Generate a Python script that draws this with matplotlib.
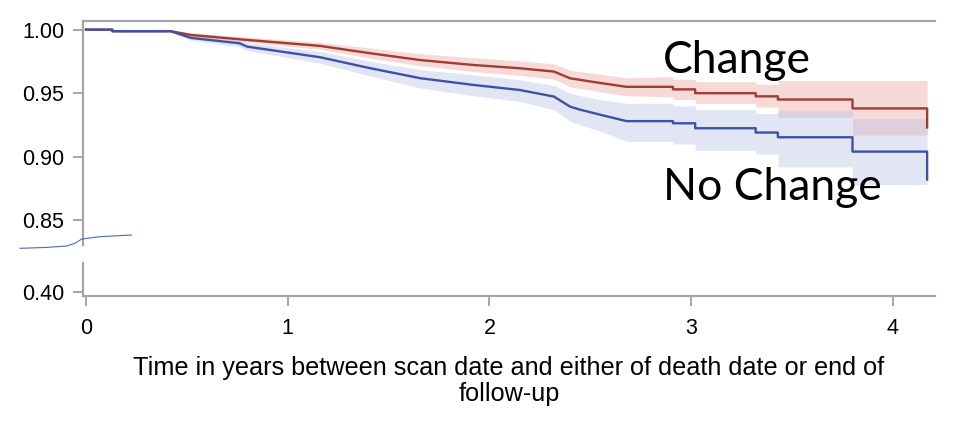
import numpy as np
import matplotlib
matplotlib.use('Agg')
import matplotlib.pyplot as plt
from matplotlib.lines import Line2D

# curve vertices (time in years, survival)
times_change = [0, 0.13, 0.13, 0.42, 0.52, 0.80, 1.16, 1.41, 1.66, 1.92, 2.15, 2.32, 2.40,
                2.55, 2.68, 2.91, 2.91, 3.02, 3.02, 3.32, 3.32, 3.43, 3.43, 3.80, 3.80,
                4.17, 4.17]
surv_change = [1.000, 1.000, 0.9988, 0.9988, 0.9958, 0.9919, 0.9872, 0.9814, 0.976, 0.9722,
               0.9696, 0.967, 0.9617, 0.958, 0.955, 0.955, 0.953, 0.953, 0.950, 0.950,
               0.9475, 0.9475, 0.945, 0.945, 0.938, 0.938, 0.923]
lower_change = [1.000, 1.000, 0.998, 0.998, 0.9945, 0.990, 0.9845, 0.9775, 0.9715, 0.967,
                0.964, 0.961, 0.955, 0.951, 0.948, 0.947, 0.945, 0.945, 0.942, 0.942,
                0.939, 0.939, 0.931, 0.931, 0.917, 0.917, 0.917]
upper_change = [1.000, 1.000, 0.9995, 0.9995, 0.9975, 0.994, 0.990, 0.9855, 0.981, 0.978,
                0.9755, 0.973, 0.968, 0.965, 0.962, 0.963, 0.961, 0.961, 0.959, 0.959,
                0.957, 0.957, 0.960, 0.960, 0.960, 0.960, 0.960]

times_nochange = [0, 0.13, 0.13, 0.42, 0.52, 0.76, 0.80, 1.16, 1.41, 1.66, 1.92, 2.15, 2.32,
                  2.40, 2.45, 2.55, 2.68, 2.91, 2.91, 3.02, 3.02, 3.32, 3.32, 3.43, 3.43,
                  3.80, 3.80, 4.17, 4.17]
surv_nochange = [1.000, 1.000, 0.9988, 0.9988, 0.9935, 0.9893, 0.9866, 0.9783, 0.9696, 0.9617,
                 0.9565, 0.9525, 0.9473, 0.9394, 0.937, 0.933, 0.928, 0.928, 0.9263, 0.9263,
                 0.9224, 0.9224, 0.919, 0.919, 0.9153, 0.9153, 0.904, 0.904, 0.882]
lower_nochange = [1.000, 1.000, 0.998, 0.998, 0.9915, 0.9865, 0.9835, 0.9735, 0.9635, 0.954,
                  0.948, 0.9435, 0.937, 0.928, 0.925, 0.920, 0.912, 0.912, 0.910, 0.910,
                  0.905, 0.905, 0.902, 0.902, 0.892, 0.892, 0.878, 0.878, 0.878]
upper_nochange = [1.000, 1.000, 0.9995, 0.9995, 0.9955, 0.992, 0.9895, 0.983, 0.975, 0.9685,
                  0.9645, 0.9605, 0.956, 0.950, 0.948, 0.945, 0.942, 0.942, 0.940, 0.940,
                  0.937, 0.937, 0.934, 0.934, 0.936, 0.936, 0.930, 0.930, 0.930]

x_ticks = [0, 1, 2, 3, 4]
y_ticks_top = [0.85, 0.90, 0.95, 1.00]
y_ticks_bottom = [0.40]

# hand drawn break mark, in figure pixels
squiggle_x = [20, 45, 66.7, 75, 81.7, 100, 131.7]
squiggle_y = [248.3, 247.5, 246, 243.3, 239, 236.7, 235]

W, H = 968, 428
red = '#A23B32'
blue = '#3F51A3'
gray = '#A6A6A6'

plt.rcParams['font.family'] = ['Liberation Sans', 'DejaVu Sans']
fig = plt.figure(figsize=(W / 100, H / 100), dpi=100)

ax = fig.add_axes([83 / W, 1 - 245 / H, (935 - 83) / W, (245 - 21) / H])
ax2 = fig.add_axes([83 / W, 1 - 296 / H, (935 - 83) / W, (296 - 263) / H])

groups = [(times_change, surv_change, lower_change, upper_change, red, '#E9A9A3'),
          (times_nochange, surv_nochange, lower_nochange, upper_nochange, blue, '#BCC2E3')]
for t, s, lo, hi, col, fc in groups:
    ax.fill_between(t, lo, hi, color=fc, alpha=0.42, lw=0)
    ax.plot(t, s, color=col, lw=1.7)

ax.set_xlim(-0.0149, 4.209)
ax.set_ylim(0.8305, 1.0068)
ax2.set_xlim(-0.0149, 4.209)
ax2.set_ylim(0.396, 0.43)

ax.set_yticks(y_ticks_top)
ax.set_yticklabels(['%.2f' % v for v in y_ticks_top])
ax.set_xticks([])
ax2.set_yticks(y_ticks_bottom)
ax2.set_yticklabels(['%.2f' % v for v in y_ticks_bottom])
ax2.set_xticks(x_ticks)
ax2.set_xticklabels([str(v) for v in x_ticks])

for a in (ax, ax2):
    for sp in a.spines.values():
        sp.set_color(gray)
        sp.set_linewidth(1.6)
    a.spines['right'].set_visible(False)
    a.tick_params(axis='both', colors=gray, labelcolor='black', labelsize=15.5,
                  length=7, width=1.4)
    a.tick_params(axis='y', pad=6.5)
    a.tick_params(axis='x', pad=9)
ax.spines['bottom'].set_visible(False)
ax2.spines['top'].set_visible(False)

ax2.set_xlabel('Time in years between scan date and either of death date or end of\nfollow-up',
               fontsize=18.2, labelpad=12, linespacing=1.12)

ax.text(2.86, 0.9659, 'Change', fontsize=32, family=['Lato', 'DejaVu Sans'],
        ha='left', va='baseline', color='black')
ax.text(2.86, 0.866, 'No Change', fontsize=32, family=['Lato', 'DejaVu Sans'],
        ha='left', va='baseline', color='black')

fig.add_artist(Line2D([x / W for x in squiggle_x], [1 - y / H for y in squiggle_y],
                      transform=fig.transFigure, color='#4A6CB0', lw=0.8))

fig.savefig('out.png', dpi=100)
